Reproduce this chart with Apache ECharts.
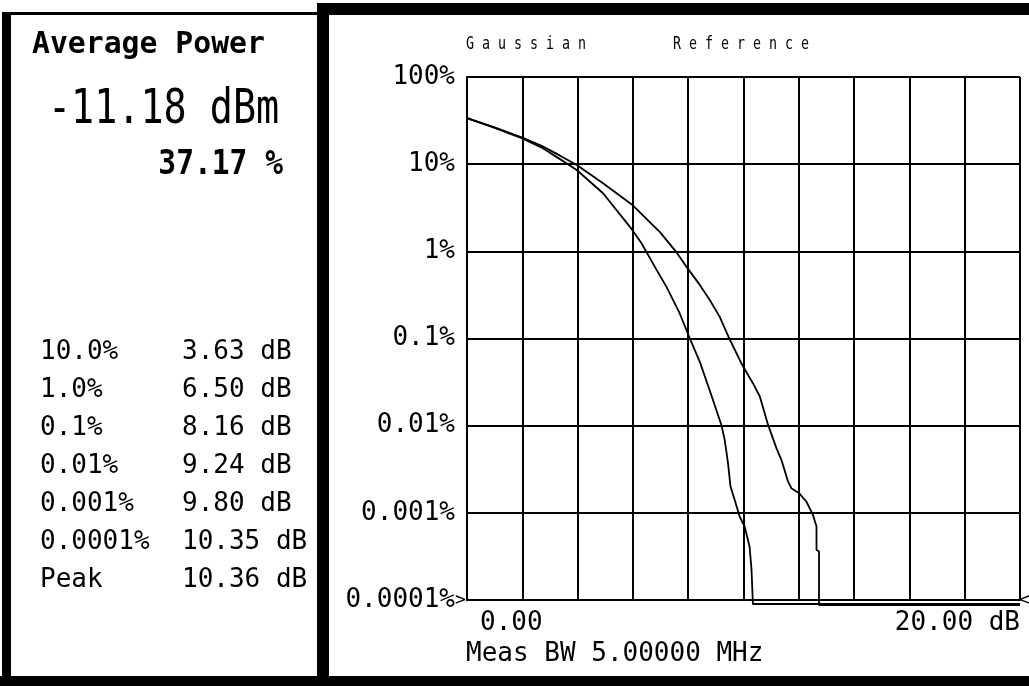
<!DOCTYPE html>
<html><head><meta charset="utf-8">
<script src="https://cdn.jsdelivr.net/npm/echarts@6/dist/echarts.min.js"></script>
<style>html,body{margin:0;padding:0;background:#fff;} #c{width:1029px;height:686px;}</style>
</head><body><div id="c"></div>
<script>
// ---- data ----
const statLabels = ['10.0%', '1.0%', '0.1%', '0.01%', '0.001%', '0.0001%', 'Peak'];
const statValues = ['3.63 dB', '6.50 dB', '8.16 dB', '9.24 dB', '9.80 dB', '10.35 dB', '10.36 dB'];
const avgPowerTitle = 'Average Power';
const avgPowerDbm = '-11.18 dBm';
const avgPowerPct = '37.17 %';
const traceLabels = ['Gaussian', 'Reference'];
const yTickLabels = ['100%', '10%', '1%', '0.1%', '0.01%', '0.001%', '0.0001%'];
const xTickLabels = { 0: '0.00', 20: '20.00 dB' };
const measBwText = 'Meas BW 5.00000 MHz';

// measured CCDF (dB above average power, probability %)
const measDb  = [0, 1.0, 2.0, 2.7, 3.35, 3.97, 4.92, 5.98, 6.31, 6.79, 7.21, 7.69, 8.05, 8.42, 8.77, 9.20, 9.32, 9.44, 9.53, 9.68, 9.86, 10.04, 10.22, 10.29, 10.34, 10.34, 20];
const measPct = [34.0, 26.1, 19.7, 15.5, 11.5, 8.58, 4.64, 1.76, 1.24, 0.668, 0.394, 0.195, 0.1016, 0.0539, 0.0258, 0.0102, 0.00687, 0.00372, 0.0020, 0.00141, 0.000908, 0.000697, 0.000411, 0.000222, 0.000212, 0.00009, 0.00009];
// gaussian reference CCDF
const gaussDb  = [0, 1.0, 2.0, 2.7, 3.35, 3.97, 4.92, 5.96, 6.97, 7.55, 7.98, 8.42, 8.78, 9.14, 9.50, 9.92, 10.34, 10.59, 10.89, 11.19, 11.37, 11.61, 11.73, 12.01, 12.27, 12.51, 12.64, 12.64, 12.73, 12.73, 20];
const gaussPct = [33.6, 26.4, 20.2, 16.2, 12.6, 9.8, 6.04, 3.45, 1.67, 1.0, 0.637, 0.412, 0.277, 0.177, 0.098, 0.0521, 0.0307, 0.0216, 0.0102, 0.00552, 0.00406, 0.00229, 0.00192, 0.00168, 0.00135, 0.00095, 0.000697, 0.000377, 0.00036, 0.0000875, 0.0000875];

// ---- chart ----
const FONT = 'DejaVu Sans Mono';
const chart = echarts.init(document.getElementById('c'), null, { renderer: 'canvas' });

function txt(x, y, text, size, opts) {
  opts = opts || {};
  return {
    type: 'text', x: x, y: y, scaleX: opts.scaleX || 1, scaleY: opts.scaleY || 1, z: 10,
    style: {
      text: text, x: 0, y: 0, fill: '#000',
      font: (opts.bold ? 'bold ' : '') + size + 'px "' + FONT + '"',
      textAlign: opts.align || 'left', textVerticalAlign: 'middle'
    }
  };
}
function box(x, y, w, h) {
  return { type: 'rect', shape: { x: x, y: y, width: w, height: h }, style: { fill: '#000' }, z: 5 };
}

const graphics = [
  box(2, 12, 9, 674),
  box(2, 12, 320, 3),
  box(317, 3, 712, 12),
  box(317, 3, 12, 683),
  box(0, 676, 1029, 10),
  txt(32, 45, avgPowerTitle, 31, { bold: true, scaleX: 0.96 }),
  txt(48, 111, avgPowerDbm, 48, { scaleX: 0.8 }),
  txt(283, 165, avgPowerPct, 34, { bold: true, align: 'right', scaleX: 0.87 }),
  txt(466, 45, traceLabels[0].split('').join(' '), 14, { scaleX: 0.95, scaleY: 1.2 }),
  txt(673, 45, traceLabels[1].split('').join(' '), 14, { scaleX: 0.95, scaleY: 1.2 }),
  txt(466, 654, measBwText, 26)
];
statLabels.forEach(function (l, i) {
  graphics.push(txt(40, 352 + i * 38, l, 26));
  graphics.push(txt(182, 352 + i * 38, statValues[i], 26));
});

const option = {
  animation: false,
  backgroundColor: '#fff',
  grid: { left: 467, right: 9, top: 77, bottom: 86, containLabel: false },
  xAxis: {
    type: 'value', min: 0, max: 20, interval: 2,
    axisLine: { show: true, lineStyle: { color: '#000', width: 2 } },
    axisTick: { show: false },
    splitLine: { show: true, lineStyle: { color: '#000', width: 2 } },
    axisLabel: {
      show: true, color: '#000', fontFamily: FONT, fontSize: 26, margin: 10,
      padding: [0, 0, 0, 13],
      alignMinLabel: 'left', alignMaxLabel: 'right',
      formatter: function (v) { return xTickLabels[v] !== undefined ? xTickLabels[v] : ''; }
    }
  },
  yAxis: {
    type: 'log', logBase: 10, min: 0.0001, max: 100,
    axisLine: { show: true, lineStyle: { color: '#000', width: 2 } },
    axisTick: { show: false },
    splitLine: { show: true, lineStyle: { color: '#000', width: 2 } },
    axisLabel: {
      color: '#000', fontFamily: FONT, fontSize: 26, margin: 12,
      formatter: function (v) { return yTickLabels[2 - Math.round(Math.log10(v))]; }
    }
  },
  series: [
    { name: 'Measured', type: 'line', showSymbol: false, symbol: 'none', clip: false,
      data: measDb.map(function (d, i) { return [d, measPct[i]]; }),
      lineStyle: { color: '#000', width: 1.8 } },
    { name: 'Gaussian', type: 'line', showSymbol: false, symbol: 'none', clip: false,
      data: gaussDb.map(function (d, i) { return [d, gaussPct[i]]; }),
      lineStyle: { color: '#000', width: 1.8 } }
  ],
  graphic: graphics
};
chart.setOption(option);

// small reference-level markers at the bottom corners of the plot
const pL = chart.convertToPixel({ gridIndex: 0 }, [0, 0.0001]);
const pR = chart.convertToPixel({ gridIndex: 0 }, [20, 0.0001]);
graphics.push(txt(pL[0] - 12, pL[1], '>', 18));
graphics.push(txt(pR[0] - 1, pR[1], '<', 18));
chart.setOption({ graphic: graphics });
</script>
</body></html>
